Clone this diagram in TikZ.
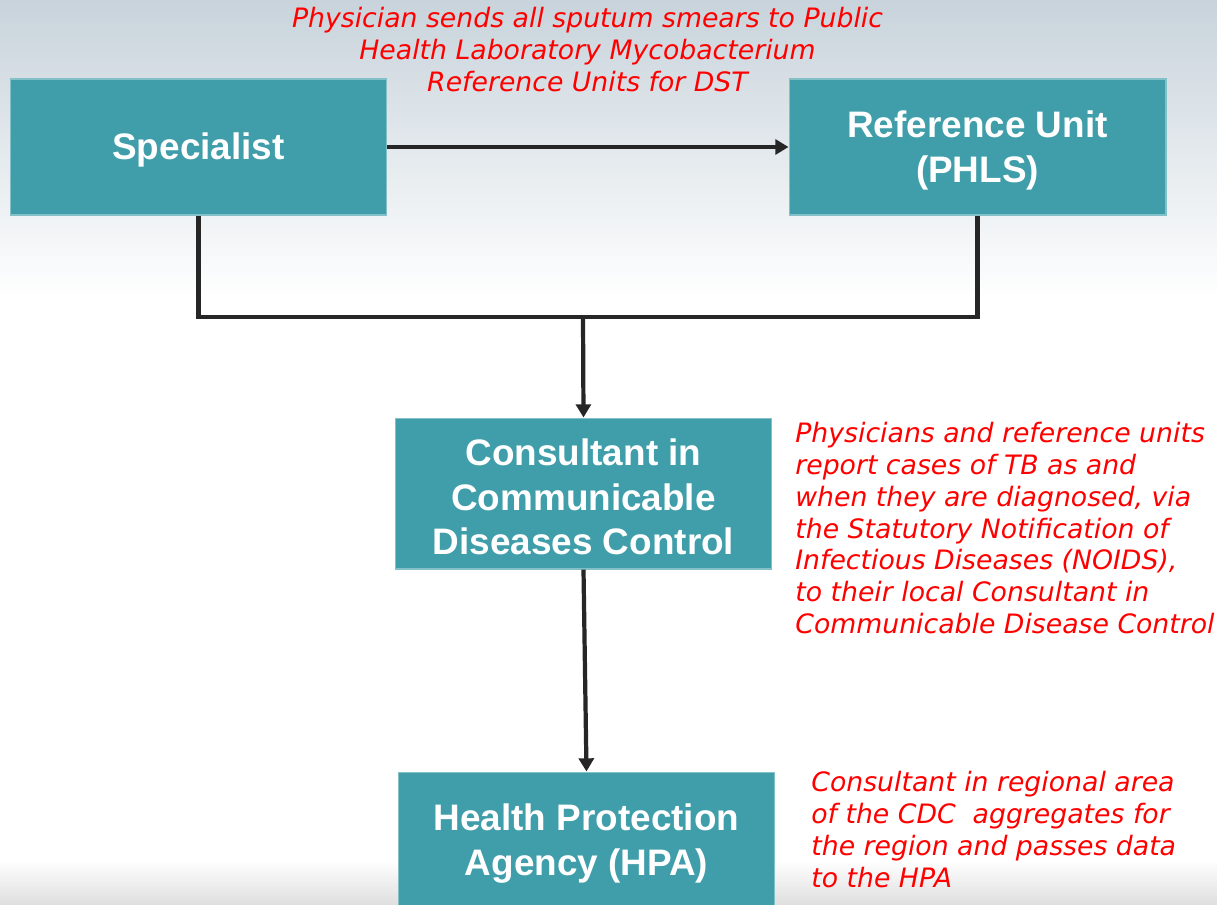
\documentclass[tikz,border=0pt]{standalone}
\usepackage{fontspec}
\setmainfont{Liberation Sans}
\newfontfamily\notefont{DejaVu Sans}
\usetikzlibrary{arrows.meta}

\definecolor{boxteal}{RGB}{64,158,170}
\definecolor{linegray}{RGB}{38,38,38}
\definecolor{skytop}{RGB}{200,211,219}

% taller first line, so the box text sits a bit lower
\newcommand\boxlift{\rule{0pt}{19pt}}

\begin{document}
\begin{tikzpicture}[x=0.02cm,y=-0.02cm,
    box/.style={fill=boxteal, draw=boxteal!65!white, line width=0.6pt, text=white,
      font=\fontsize{21}{25.5}\selectfont\bfseries, align=center,
      minimum width=7.54cm, minimum height=2.72cm, inner sep=0pt},
    note/.style={text=red, font=\notefont\fontsize{15.2}{18.1}\selectfont\itshape, inner sep=0pt},
    link/.style={draw=linegray, line width=2.4pt},
    arr/.style={link, -{Triangle[length=7.5pt,width=8.5pt]}}]
    \useasboundingbox (0,0) rectangle (1217,904);
    \clip (0,0) rectangle (1217,904);

    % sky behind the chart
    \shade[top color=skytop, bottom color=white] (0,0) rectangle (1217,300);
    \fill[white] (0,300) rectangle (1217,904);
    \shade[top color=white, bottom color=gray!25] (0,860) rectangle (1217,904);

    \node[box] (spec) at (198.5,147) {\boxlift Specialist};
    \node[box] (ref) at (977.5,147) {\boxlift Reference Unit\\(PHLS)};
    \node[box, minimum height=3.02cm] (ccdc) at (583.5,493.5) {\boxlift Consultant in\\Communicable\\Diseases Control};
    \node[box] (hpa) at (586.5,840) {\boxlift Health Protection\\Agency (HPA)};

    \node[note, align=center, anchor=north] (smears) at (587.5,7)
      {Physician sends all sputum smears to Public\\Health Laboratory Mycobacterium\\Reference Units for DST};
    \node[note, align=left, anchor=north west] (notify) at (795,422)
      {Physicians and reference units\\report cases of TB as and\\when they are diagnosed, via\\the Statutory Notification of\\Infectious Diseases (NOIDS),\\to their local Consultant in\\Communicable Disease Control};
    \node[note, align=left, anchor=north west] (aggr) at (811,771)
      {Consultant in regional area\\of the CDC\ \ aggregates for\\the region and passes data\\to the HPA};

    \coordinate (join) at (583,317);

    \draw[arr] (spec) -- (ref);
    \draw[link] (spec.south) |- (join) -| (ref.south);
    \draw[arr] (join) -- (ccdc.north);
    \draw[arr] (ccdc.south) -- (hpa.north);
\end{tikzpicture}
\end{document}
